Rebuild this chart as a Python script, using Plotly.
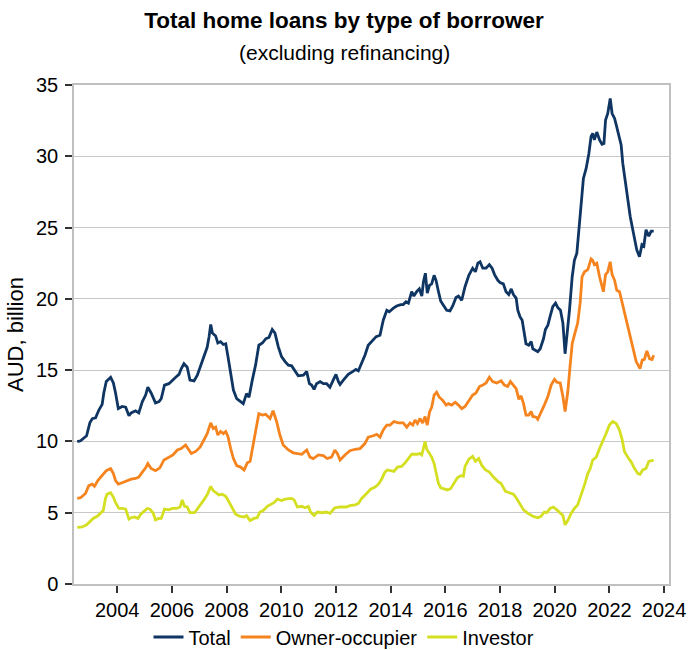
import plotly.graph_objects as go

# ---------------- data ----------------
total_x = [2002.54, 2002.66, 2002.88, 2003.0, 2003.09, 2003.21, 2003.33, 2003.45, 2003.51, 2003.6,
           2003.76, 2003.86, 2003.94, 2004.04, 2004.18, 2004.31, 2004.43, 2004.51, 2004.67, 2004.79,
           2004.92, 2005.04, 2005.12, 2005.24, 2005.4, 2005.53, 2005.61, 2005.73, 2005.89, 2006.01,
           2006.14, 2006.26, 2006.34, 2006.44, 2006.56, 2006.66, 2006.81, 2006.93, 2007.05, 2007.17,
           2007.29, 2007.36, 2007.42, 2007.48, 2007.6, 2007.68, 2007.78, 2007.88, 2007.97, 2008.05,
           2008.15, 2008.25, 2008.37, 2008.49, 2008.61, 2008.73, 2008.82, 2008.94, 2009.06, 2009.18,
           2009.31, 2009.43, 2009.55, 2009.67, 2009.77, 2009.89, 2010.01, 2010.14, 2010.26, 2010.38,
           2010.5, 2010.62, 2010.81, 2010.93, 2011.03, 2011.11, 2011.2, 2011.29, 2011.42, 2011.54,
           2011.66, 2011.78, 2011.9, 2012.0, 2012.09, 2012.15, 2012.27, 2012.45, 2012.61, 2012.73,
           2012.82, 2012.94, 2013.06, 2013.18, 2013.31, 2013.47, 2013.61, 2013.73, 2013.86, 2013.95,
           2014.1, 2014.22, 2014.37, 2014.46, 2014.56, 2014.65, 2014.77, 2014.85, 2014.95, 2015.05,
           2015.14, 2015.2, 2015.27, 2015.34, 2015.42, 2015.5, 2015.59, 2015.66, 2015.75, 2015.83,
           2015.93, 2016.05, 2016.17, 2016.27, 2016.39, 2016.48, 2016.6, 2016.72, 2016.86, 2017.0,
           2017.1, 2017.19, 2017.27, 2017.37, 2017.49, 2017.61, 2017.71, 2017.8, 2017.92, 2018.0,
           2018.12, 2018.22, 2018.32, 2018.41, 2018.49, 2018.59, 2018.65, 2018.73, 2018.81, 2018.86,
           2018.95, 2019.05, 2019.14, 2019.2, 2019.32, 2019.38, 2019.47, 2019.59, 2019.66, 2019.75,
           2019.83, 2019.93, 2020.03, 2020.11, 2020.21, 2020.3, 2020.38, 2020.45, 2020.54, 2020.64,
           2020.72, 2020.81, 2020.9, 2021.0, 2021.05, 2021.15, 2021.25, 2021.33, 2021.39, 2021.45,
           2021.54, 2021.64, 2021.73, 2021.8, 2021.86, 2021.94, 2022.03, 2022.1, 2022.19, 2022.25,
           2022.35, 2022.43, 2022.49, 2022.59, 2022.67, 2022.76, 2022.83, 2022.92, 2023.0, 2023.1,
           2023.19, 2023.26, 2023.34, 2023.44, 2023.53, 2023.62]
total_y = [9.98, 10.05, 10.4, 11.3, 11.6, 11.65, 12.2, 12.6, 13.4, 14.2,
           14.5, 14.1, 13.4, 12.3, 12.45, 12.4, 11.8, 12.0, 12.15, 12.0,
           12.8, 13.25, 13.8, 13.4, 12.7, 12.8, 13.0, 13.95, 14.05, 14.3,
           14.5, 14.7, 15.1, 15.45, 15.2, 14.3, 14.25, 14.65, 15.35, 16.05,
           16.6, 17.35, 18.2, 17.6, 17.4, 16.9, 17.0, 16.8, 16.85, 15.95,
           14.65, 13.6, 13.0, 12.8, 12.65, 13.35, 13.1, 14.3, 15.35, 16.75,
           16.9, 17.2, 17.3, 17.85, 17.6, 16.65, 15.95, 15.6, 15.35, 15.3,
           14.9, 14.6, 14.65, 14.9, 14.05, 13.95, 13.65, 14.05, 14.2, 14.05,
           14.05, 13.8, 14.3, 14.7, 14.2, 14.0, 14.3, 14.7, 14.9, 15.05,
           14.95, 15.45, 16.05, 16.75, 17.0, 17.35, 17.45, 18.5, 19.2, 19.1,
           19.35, 19.5, 19.6, 19.6, 19.8, 19.7, 20.5, 20.2, 20.5, 20.7,
           20.2, 21.2, 21.8, 20.4, 20.95, 21.05, 21.65, 21.3, 20.5, 19.85,
           19.55, 19.2, 19.15, 19.5, 20.1, 20.2, 19.9, 20.85, 21.65, 22.15,
           21.9, 22.5, 22.6, 22.15, 22.15, 22.4, 22.15, 21.7, 21.3, 21.15,
           21.05, 20.5, 20.3, 20.7, 20.3, 20.05, 19.2, 18.75, 18.5, 17.8,
           16.85, 16.75, 17.0, 16.5, 16.4, 16.3, 16.5, 17.2, 17.85, 18.15,
           18.75, 19.45, 19.7, 19.4, 19.2, 18.3, 16.15, 17.35, 19.2, 21.55,
           22.7, 23.2, 25.3, 27.6, 28.45, 29.15, 30.2, 31.4, 31.6, 31.15,
           31.7, 31.15, 30.85, 30.9, 32.55, 33.0, 34.05, 33.0, 32.65, 32.2,
           31.4, 30.8, 29.5, 28.0, 26.75, 25.8, 25.1, 24.15, 23.45, 22.95,
           23.8, 23.7, 24.85, 24.4, 24.75, 24.75]

owner_x = [2002.54, 2002.66, 2002.84, 2002.96, 2003.09, 2003.17, 2003.29, 2003.45, 2003.6, 2003.76,
           2003.86, 2003.94, 2004.04, 2004.18, 2004.37, 2004.51, 2004.67, 2004.79, 2004.92, 2005.04,
           2005.12, 2005.24, 2005.4, 2005.56, 2005.71, 2005.89, 2006.04, 2006.2, 2006.34, 2006.5,
           2006.62, 2006.71, 2006.87, 2007.03, 2007.17, 2007.29, 2007.42, 2007.51, 2007.6, 2007.68,
           2007.78, 2007.88, 2007.97, 2008.05, 2008.15, 2008.25, 2008.37, 2008.51, 2008.64, 2008.76,
           2008.86, 2008.98, 2009.06, 2009.18, 2009.31, 2009.43, 2009.59, 2009.7, 2009.83, 2009.95,
           2010.07, 2010.26, 2010.44, 2010.62, 2010.75, 2010.93, 2011.05, 2011.17, 2011.36, 2011.54,
           2011.68, 2011.84, 2011.96, 2012.05, 2012.15, 2012.33, 2012.51, 2012.7, 2012.88, 2013.06,
           2013.18, 2013.37, 2013.49, 2013.61, 2013.73, 2013.86, 2013.98, 2014.12, 2014.28, 2014.46,
           2014.59, 2014.71, 2014.81, 2014.89, 2014.98, 2015.07, 2015.17, 2015.26, 2015.34, 2015.42,
           2015.5, 2015.59, 2015.68, 2015.78, 2015.9, 2016.03, 2016.11, 2016.23, 2016.36, 2016.48,
           2016.6, 2016.72, 2016.86, 2017.0, 2017.12, 2017.25, 2017.37, 2017.49, 2017.61, 2017.73,
           2017.88, 2018.04, 2018.16, 2018.28, 2018.38, 2018.49, 2018.59, 2018.69, 2018.77, 2018.86,
           2018.95, 2019.05, 2019.14, 2019.2, 2019.32, 2019.38, 2019.5, 2019.62, 2019.75, 2019.87,
           2019.99, 2020.08, 2020.2, 2020.3, 2020.38, 2020.48, 2020.56, 2020.64, 2020.72, 2020.84,
           2020.93, 2021.0, 2021.09, 2021.21, 2021.33, 2021.39, 2021.45, 2021.54, 2021.64, 2021.73,
           2021.78, 2021.86, 2021.94, 2022.03, 2022.1, 2022.19, 2022.27, 2022.37, 2022.47, 2022.59,
           2022.71, 2022.8, 2022.88, 2022.98, 2023.08, 2023.12, 2023.2, 2023.28, 2023.37, 2023.47,
           2023.56, 2023.62]
owner_y = [6.0, 6.05, 6.35, 6.9, 7.0, 6.85, 7.25, 7.6, 7.95, 8.1,
           7.75, 7.25, 7.0, 7.1, 7.25, 7.35, 7.4, 7.5, 7.85, 8.15,
           8.45, 8.1, 7.95, 8.15, 8.7, 8.9, 9.05, 9.4, 9.5, 9.75,
           9.4, 9.15, 9.3, 9.6, 10.1, 10.55, 11.3, 10.9, 11.0, 10.45,
           10.7, 10.55, 10.7, 10.35, 9.5, 8.8, 8.3, 8.2, 8.0, 8.5,
           8.6, 9.85, 10.65, 11.95, 11.85, 11.9, 11.6, 12.15, 11.4, 10.45,
           9.75, 9.4, 9.2, 9.15, 9.1, 9.4, 8.9, 8.8, 9.05, 9.0,
           8.8, 8.9, 9.4, 9.15, 8.7, 9.05, 9.35, 9.45, 9.5, 9.85,
           10.3, 10.4, 10.5, 10.3, 10.8, 11.15, 11.15, 11.4, 11.3, 11.3,
           11.0, 11.3, 11.15, 11.5, 11.25, 11.6, 11.3, 11.75, 11.15, 12.05,
           12.4, 13.25, 13.45, 13.1, 12.9, 12.55, 12.65, 12.55, 12.75, 12.55,
           12.3, 12.45, 12.85, 13.25, 13.4, 13.85, 13.95, 14.1, 14.5, 14.2,
           14.1, 14.25, 13.95, 13.85, 14.2, 13.95, 13.7, 12.95, 13.2, 12.65,
           11.85, 11.85, 12.1, 11.75, 11.7, 11.55, 12.0, 12.55, 13.15, 13.95,
           14.35, 14.15, 14.1, 13.15, 12.1, 13.5, 15.25, 16.85, 17.45, 18.3,
           19.7, 21.55, 21.9, 22.05, 22.8, 22.7, 22.4, 22.5, 21.55, 20.95,
           20.5, 21.7, 21.9, 22.6, 21.7, 21.3, 20.6, 20.5, 19.7, 18.65,
           17.6, 17.0, 16.2, 15.6, 15.25, 15.1, 15.7, 15.75, 16.35, 15.8,
           15.75, 16.05]

investor_x = [2002.54, 2002.72, 2002.88, 2003.0, 2003.12, 2003.27, 2003.39, 2003.49, 2003.57, 2003.63,
              2003.76, 2003.86, 2003.94, 2004.06, 2004.18, 2004.31, 2004.43, 2004.51, 2004.63, 2004.76,
              2004.86, 2004.98, 2005.1, 2005.2, 2005.32, 2005.4, 2005.53, 2005.61, 2005.73, 2005.89,
              2006.01, 2006.17, 2006.3, 2006.38, 2006.46, 2006.56, 2006.66, 2006.83, 2006.99, 2007.15,
              2007.29, 2007.42, 2007.51, 2007.64, 2007.72, 2007.84, 2007.97, 2008.09, 2008.21, 2008.33,
              2008.49, 2008.64, 2008.73, 2008.86, 2009.0, 2009.12, 2009.22, 2009.34, 2009.49, 2009.63,
              2009.73, 2009.86, 2010.01, 2010.14, 2010.26, 2010.38, 2010.47, 2010.59, 2010.75, 2010.87,
              2010.99, 2011.07, 2011.2, 2011.32, 2011.48, 2011.64, 2011.78, 2011.96, 2012.15, 2012.37,
              2012.51, 2012.7, 2012.82, 2012.94, 2013.12, 2013.27, 2013.43, 2013.55, 2013.67, 2013.79,
              2013.88, 2014.0, 2014.12, 2014.25, 2014.4, 2014.53, 2014.65, 2014.77, 2014.95, 2015.07,
              2015.14, 2015.2, 2015.26, 2015.32, 2015.42, 2015.5, 2015.59, 2015.69, 2015.75, 2015.83,
              2015.95, 2016.08, 2016.2, 2016.32, 2016.44, 2016.56, 2016.66, 2016.72, 2016.86, 2017.0,
              2017.1, 2017.22, 2017.34, 2017.47, 2017.61, 2017.76, 2017.92, 2018.04, 2018.2, 2018.34,
              2018.49, 2018.59, 2018.71, 2018.86, 2019.02, 2019.2, 2019.38, 2019.5, 2019.62, 2019.71,
              2019.83, 2019.95, 2020.08, 2020.2, 2020.3, 2020.38, 2020.48, 2020.6, 2020.72, 2020.84,
              2020.97, 2021.09, 2021.21, 2021.3, 2021.39, 2021.52, 2021.64, 2021.76, 2021.88, 2022.0,
              2022.12, 2022.25, 2022.37, 2022.47, 2022.55, 2022.67, 2022.8, 2022.92, 2023.04, 2023.12,
              2023.22, 2023.34, 2023.44, 2023.56, 2023.62]
investor_y = [3.97, 4.0, 4.15, 4.35, 4.6, 4.75, 5.0, 5.15, 6.0, 6.3,
              6.4, 6.1, 5.7, 5.3, 5.3, 5.25, 4.55, 4.65, 4.7, 4.6,
              4.9, 5.1, 5.3, 5.25, 4.95, 4.5, 4.6, 4.6, 5.25, 5.2,
              5.3, 5.3, 5.4, 5.9, 5.45, 5.4, 5.0, 5.0, 5.4, 5.85,
              6.25, 6.85, 6.55, 6.4, 6.25, 6.3, 6.15, 5.75, 5.3, 4.9,
              4.75, 4.7, 4.8, 4.45, 4.6, 4.65, 5.05, 5.15, 5.45, 5.6,
              5.7, 5.95, 5.85, 5.95, 5.95, 6.0, 5.9, 5.4, 5.45, 5.35,
              5.45, 5.05, 4.8, 5.05, 5.0, 5.05, 4.95, 5.35, 5.4, 5.4,
              5.5, 5.55, 5.65, 6.0, 6.35, 6.65, 6.8, 7.0, 7.35, 7.85,
              8.0, 7.95, 7.9, 8.2, 8.25, 8.5, 8.8, 9.1, 9.1, 9.15,
              9.05, 9.5, 10.0, 9.45, 9.15, 8.9, 8.45, 7.5, 7.05, 6.75,
              6.7, 6.6, 6.7, 7.05, 7.45, 7.6, 7.55, 8.25, 8.75, 8.95,
              8.6, 8.8, 8.3, 8.0, 7.85, 7.5, 7.2, 7.05, 6.5, 6.4,
              6.3, 6.05, 5.65, 5.2, 4.95, 4.75, 4.65, 4.75, 5.05, 5.0,
              5.3, 5.4, 5.2, 5.0, 4.8, 4.15, 4.45, 4.95, 5.3, 5.55,
              6.25, 6.95, 7.75, 8.1, 8.7, 8.9, 9.5, 10.0, 10.55, 11.15,
              11.4, 11.25, 10.8, 10.1, 9.3, 8.9, 8.55, 8.1, 7.75, 7.7,
              8.0, 8.1, 8.6, 8.65, 8.7]

year_ticks = [2004, 2006, 2008, 2010, 2012, 2014, 2016, 2018, 2020, 2022, 2024]
value_ticks = [0, 5, 10, 15, 20, 25, 30, 35]

# ---------------- figure ----------------
FONT = "Liberation Sans, Arial, sans-serif"
W, H = 688, 650
ML, MR, MT, MB = 74, 19, 85, 66

series = [
    ("Total", total_x, total_y, "#0f3563"),
    ("Owner-occupier", owner_x, owner_y, "#f5841f"),
    ("Investor", investor_x, investor_y, "#d5df22"),
]

fig = go.Figure()
for name, xs, ys, col in series:
    fig.add_trace(go.Scatter(x=xs, y=ys, mode="lines", name=name,
                             line=dict(color=col, width=2.8)))

fig.update_layout(
    width=W, height=H,
    margin=dict(l=ML, r=MR, t=MT, b=MB),
    paper_bgcolor="white", plot_bgcolor="white",
    font=dict(family=FONT, size=20, color="#000000"),
    title=dict(text="<b>Total home loans by type of borrower</b>",
               x=0.5, xanchor="center", xref="container",
               y=1 - 20 / H, yref="container", yanchor="middle",
               font=dict(size=22.5, family=FONT, color="#000000")),
    annotations=[dict(text="(excluding refinancing)", xref="paper", yref="paper",
                      x=(W / 2 - ML) / (W - ML - MR), y=(H - MB - 52) / (H - MT - MB),
                      xanchor="center", yanchor="middle", showarrow=False,
                      font=dict(size=21, family=FONT, color="#000000"))],
    showlegend=True,
    legend=dict(orientation="h", xref="container", yref="container",
                x=0.5, xanchor="center", y=(H - 637) / H, yanchor="middle",
                font=dict(size=20, family=FONT), bgcolor="rgba(0,0,0,0)",
                itemwidth=30, tracegroupgap=0),
)

fig.update_xaxes(
    range=[2002.42, 2024.18], tickmode="array", tickvals=year_ticks,
    ticks="outside", ticklen=7, tickwidth=1.5, tickcolor="#333333",
    showline=True, linecolor="#c0c0c0", linewidth=1.5, mirror=True,
    showgrid=False, zeroline=False, tickfont=dict(size=20, family=FONT),
    automargin=False,
)
fig.update_yaxes(
    range=[0, 35], tickmode="array", tickvals=value_ticks,
    ticks="outside", ticklen=7, tickwidth=1.5, tickcolor="#333333",
    showline=True, linecolor="#c0c0c0", linewidth=1.5, mirror=True,
    showgrid=True, gridcolor="#c8c8c8", gridwidth=1, zeroline=False,
    tickfont=dict(size=20, family=FONT), automargin=False, ticklabelstandoff=3,
    title=dict(text="AUD, billion", font=dict(size=22, family=FONT), standoff=6),
)

fig.write_html("out.html")
